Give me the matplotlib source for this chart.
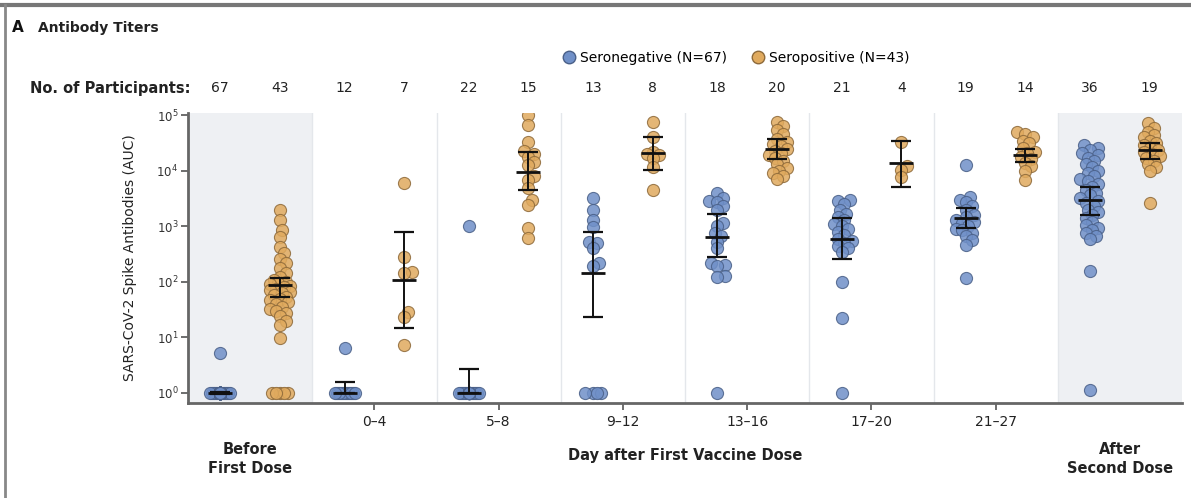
import numpy as np
import matplotlib.pyplot as plt
from matplotlib.lines import Line2D
from matplotlib.transforms import blended_transform_factory

plt.rcParams['font.family'] = ['Liberation Sans Narrow', 'DejaVu Sans']

groups = ["Before\nFirst Dose", "0–4", "5–8", "9–12", "13–16", "17–20", "21–27", "After\nSecond Dose"]
n_neg = [67, 12, 22, 13, 18, 21, 19, 36]
n_pos = [43, 7, 15, 8, 20, 4, 14, 19]

# seronegative participants, one list per time window (AUC)
neg_vals = [
    [1] * 66 + [5.2],
    [1] * 11 + [6.5],
    [1] * 21 + [1000],
    [1] * 4 + [3200, 1950, 1300, 980, 530, 500, 400, 215, 190],
    [1, 4000, 3200, 2800, 2700, 2300, 1950, 1130, 1000, 760, 660, 530, 400, 215, 200, 190, 130, 120],
    [1, 22, 100, 3000, 2800, 2500, 2000, 1700, 1500, 1300, 1100, 1000, 900, 800, 700, 600, 550, 500, 450,
     400, 350],
    [12600, 3400, 3000, 2700, 2300, 1950, 1600, 1480, 1300, 1200, 1130, 1000, 900, 850, 760, 660, 560, 460, 117],
    [1.15, 160, 29000, 26000, 24000, 21000, 19000, 17000, 15000, 13000, 11500, 10000, 9000, 8000, 7200, 6500,
     5800, 5200, 4600, 4000, 3600, 3200, 2900, 2600, 2300, 2000, 1800, 1600, 1400, 1200, 1050, 950, 850, 750,
     680, 600],
]
# seropositive participants
pos_vals = [
    [1] * 5 + [1950, 1300, 850, 650, 430, 330, 260, 215, 180, 143, 125, 107, 100, 95, 90, 85, 81, 75, 70, 66,
               62, 58, 54, 50, 47, 44, 40, 36, 33, 30, 27, 24, 20, 17, 9.7],
    [6000, 280, 152, 145, 29, 23, 7.3],
    [100000, 66000, 33000, 23000, 20000, 18000, 14500, 12600, 8000, 6800, 4900, 3000, 2400, 930, 620],
    [76000, 41000, 22000, 20000, 19000, 17000, 11700, 4500],
    [75000, 65000, 55000, 45000, 38000, 33000, 30000, 28000, 25000, 23000, 21000, 19000, 17000, 15000, 13000,
     11000, 10000, 9000, 8000, 7000],
    [33000, 12000, 10500, 7800],
    [50000, 46000, 40000, 35000, 31000, 26000, 22000, 20500, 18000, 16000, 14000, 12000, 10000, 6800],
    [71000, 60000, 50000, 44000, 40000, 35000, 32000, 29000, 26000, 24000, 22000, 20000, 18500, 17000, 15000,
     13000, 11500, 10000, 2600],
]
# geometric means with 95% CI
neg_gm = [1, 1, 1, 142, 650, 600, 1400, 3000]
neg_lo = [0.95, 1, 1, 23, 280, 260, 930, 1600]
neg_hi = [1.05, 1.6, 2.7, 790, 1700, 1400, 2100, 5100]
pos_gm = [87, 108, 9500, 20500, 25000, 13600, 19000, 23500]
pos_lo = [53, 15, 4500, 10200, 16600, 5100, 14500, 16600]
pos_hi = [117, 800, 22000, 41000, 38000, 35000, 25000, 31000]

W, H = 1191, 498
fig = plt.figure(figsize=(W / 100, H / 100), dpi=100)
ax = fig.add_axes([188 / W, 1 - 403 / H, 994 / W, 290 / H])

blue, blue_e = '#7090c8', '#4a6088'
orange, orange_e = '#e0aa5e', '#8e6a3a'


def swarm(vals, center, ppx=124.25, ppd=55.6, d=6.5, cap=10):
    ly = np.log10(vals) * ppd
    placed = []
    xs = np.zeros(len(vals))
    cands = [0]
    for k in range(1, cap // 2 + 1):
        cands += [2 * k, -2 * k]
    for i in np.argsort(ly):
        best, bestd = 0, -1
        for c in cands:
            md = min((np.hypot(c - px, ly[i] - py) for px, py in placed), default=1e9)
            if md >= d:
                best = c
                break
            if md > bestd:
                best, bestd = c, md
        placed.append((best, ly[i]))
        xs[i] = center + best / ppx
    return xs


# panel backgrounds
for i in range(8):
    if i in (0, 7):
        ax.axvspan(i, i + 1, color='#eef0f3', zorder=0, lw=0)
    elif i < 7:
        ax.axvline(i, color='#e4e7eb', lw=1, zorder=0)
ax.axvline(7, color='#e4e7eb', lw=1, zorder=0)

off = 0.24
for i in range(8):
    for vals, c, ec, dx, gm, lo, hi in [
        (neg_vals[i], blue, blue_e, -off, neg_gm[i], neg_lo[i], neg_hi[i]),
        (pos_vals[i], orange, orange_e, off, pos_gm[i], pos_lo[i], pos_hi[i]),
    ]:
        xc = i + 0.5 + dx
        v = np.array(vals, dtype=float)
        ax.scatter(swarm(v, xc), v, s=76, c=c, edgecolors=ec, linewidths=0.8, alpha=0.85, zorder=3)
        ax.errorbar([xc], [gm], yerr=[[gm - lo], [hi - gm]], fmt='none', ecolor='#111111',
                    elinewidth=1.4, capsize=7.5, capthick=1.6, zorder=4)
        ax.plot([xc], [gm], marker='_', ms=17, mew=2.0, color='#111111', zorder=4)

ax.set_yscale('log')
ax.set_ylim(10 ** -0.18, 10 ** 5.04)
ax.set_xlim(0, 8)
ax.set_yticks([10 ** k for k in range(6)])
ax.set_yticklabels([f'$10^{{{k}}}$' for k in range(6)], fontsize=8.5, color='#333333')
ax.minorticks_off()
ax.set_xticks([i + 0.5 for i in range(1, 7)])
ax.set_xticklabels(groups[1:7], fontsize=10, color='#222222')
ax.tick_params(axis='both', length=5, width=1.2, color='#555555', direction='out')
ax.tick_params(axis='y', pad=2)
ax.tick_params(axis='x', pad=4)
for s in ('top', 'right'):
    ax.spines[s].set_visible(False)
for s in ('left', 'bottom'):
    ax.spines[s].set_color('#666666')
    ax.spines[s].set_linewidth(2)

tr = blended_transform_factory(ax.transData, fig.transFigure)
for i in range(8):
    ax.text(i + 0.5 - off, 1 - 88 / H, str(n_neg[i]), transform=tr, ha='center', va='center', fontsize=10,
            color='#222222')
    ax.text(i + 0.5 + off, 1 - 88 / H, str(n_pos[i]), transform=tr, ha='center', va='center', fontsize=10,
            color='#222222')
fig.text(30 / W, 1 - 88 / H, 'No. of Participants:', ha='left', va='center', fontsize=10.5,
         fontweight='bold', color='#222222')

ax.text(0.5, 1 - 459 / H, groups[0], transform=tr, ha='center', va='center', fontsize=10.5,
        fontweight='bold', color='#222222', linespacing=1.3)
ax.text(7.5, 1 - 459 / H, groups[7], transform=tr, ha='center', va='center', fontsize=10.5,
        fontweight='bold', color='#222222', linespacing=1.3)
ax.text(4.0, 1 - 455 / H, 'Day after First Vaccine Dose', transform=tr, ha='center', va='center',
        fontsize=10.5, fontweight='bold', color='#222222')

fig.text(130 / W, 1 - 258 / H, 'SARS-CoV-2 Spike Antibodies (AUC)', rotation=90, ha='center',
         va='center', fontsize=10, color='#222222')

fig.text(12 / W, 1 - 28 / H, 'A', ha='left', va='center', fontsize=11, fontweight='bold', color='#111111')
fig.text(38 / W, 1 - 28 / H, 'Antibody Titers', ha='left', va='center', fontsize=10, fontweight='bold',
         color='#222222')

handles = [
    Line2D([], [], ls='none', marker='o', ms=9, mfc=blue, mec=blue_e, label='Seronegative (N=67)'),
    Line2D([], [], ls='none', marker='o', ms=9, mfc=orange, mec=orange_e, label='Seropositive (N=43)'),
]
fig.legend(handles=handles, loc='center', bbox_to_anchor=(735 / W, 1 - 58 / H), ncol=2, frameon=False,
           fontsize=10, handletextpad=0.2, columnspacing=1.6, borderaxespad=0, handlelength=1.2)

# outer frame (top and left edges)
fig.add_artist(Line2D([0, 1], [1 - 5 / H, 1 - 5 / H], transform=fig.transFigure, color='#777777', lw=3))
fig.add_artist(Line2D([5 / W, 5 / W], [0, 1 - 5 / H], transform=fig.transFigure, color='#888888', lw=2))

fig.savefig('out.png', dpi=100)
